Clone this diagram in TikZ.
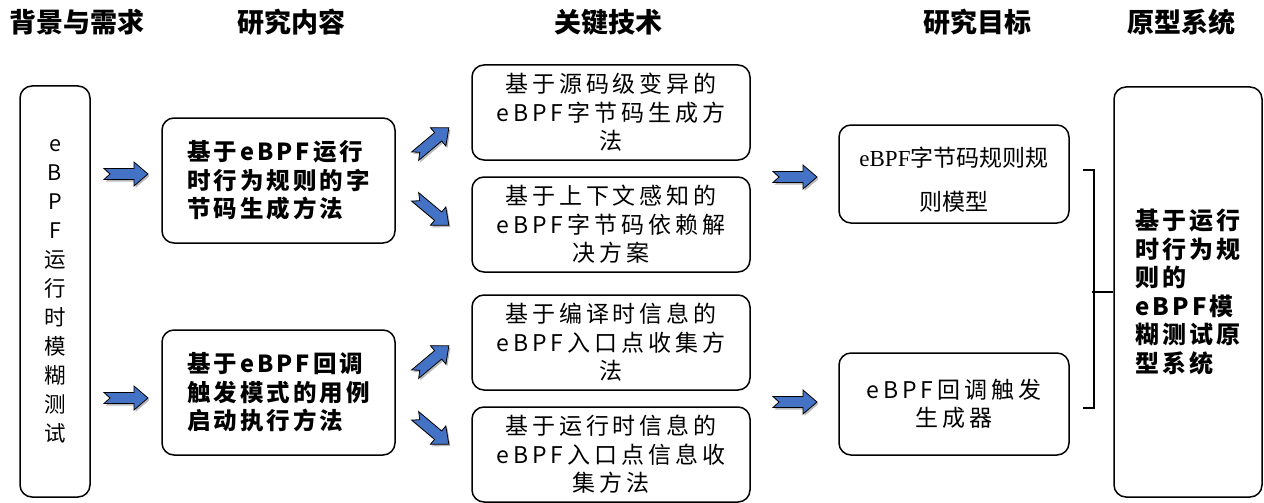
\documentclass[tikz,border=0pt]{standalone}
\usepackage{fontspec}
\setmainfont{Noto Sans CJK SC}
\newfontfamily\spaced{Noto Sans CJK SC}[LetterSpace=17]
\newfontfamily\bspaced{Noto Sans CJK SC}[LetterSpace=13]
\newfontfamily\tnr{Liberation Serif}
\usetikzlibrary{shadows,calc}
\definecolor{arrowblue}{RGB}{68,114,196}
\tikzset{
  box/.style={draw, line width=1.5pt, rounded corners=12pt, inner sep=0pt, align=center},
  headtext/.style={font=\fontsize{27}{30}\selectfont\bfseries, inner sep=0pt},
  plaintext/.style={font=\spaced\fontsize{23}{28.5}\selectfont},
  boldtext/.style={font=\bspaced\bfseries\fontsize{23.5}{28.5}\selectfont},
  bracket/.style={draw, line width=1.5pt},
  barrow/.pic={\path[draw=black, line width=0.8pt, fill=arrowblue, line join=miter,
      drop shadow={shadow xshift=1.5pt, shadow yshift=-2pt, opacity=0.45, fill=black!60}]
      (-22,-5.5) -- (8,-5.5) -- (8,-12) -- (22,0) -- (8,12) -- (8,5.5) -- (-22,5.5) -- (-16,0) -- cycle;}
}
\begin{document}
\begin{tikzpicture}[x=1pt,y=-1pt]
\useasboundingbox (0,0) rectangle (1264,503);
% headers
\node[headtext] (h1) at (77,22) {背景与需求};
\node[headtext] (h2) at (291,22) {研究内容};
\node[headtext] (h3) at (608,22) {关键技术};
\node[headtext] (h4) at (977,22) {研究目标};
\node[headtext] (h5) at (1181,22) {原型系统};
% left
\node[box, minimum width=70pt, minimum height=411pt, font=\fontsize{21.5}{29}\selectfont] (L) at (55,291.5)
  {e\\B\\P\\F\\运\\行\\时\\模\\糊\\测\\试};
% research content
\node[box, boldtext, align=left, minimum width=233pt, minimum height=125pt] (R1) at (278.5,180.5)
  {基于eBPF运行\\时行为规则的字\\节码生成方法};
\node[box, boldtext, align=left, minimum width=233pt, minimum height=125pt] (R2) at (278.5,392.5)
  {基于eBPF回调\\触发模式的用例\\启动执行方法};
% key techniques
\node[box, plaintext, minimum width=278pt, minimum height=95pt] (K1) at (611,112.5)
  {基于源码级变异的\\eBPF字节码生成方\\法};
\node[box, plaintext, minimum width=278pt, minimum height=95pt] (K2) at (611,224.5)
  {基于上下文感知的\\eBPF字节码依赖解\\决方案};
\node[box, plaintext, minimum width=278pt, minimum height=95pt] (K3) at (611,342.5)
  {基于编译时信息的\\eBPF入口点收集方\\法};
\node[box, plaintext, minimum width=278pt, minimum height=95pt] (K4) at (611,454.5)
  {基于运行时信息的\\eBPF入口点信息收\\集方法};
% goals
\node[box, minimum width=230pt, minimum height=98pt] (T1) at (954,174) {};
\node[align=center, font=\fontsize{23}{44}\selectfont] (T1t) at (954,180)
  {{\tnr eBPF}字节码规则规\\则模型};
\node[box, plaintext, minimum width=230pt, minimum height=102pt] (T2) at (954,404)
  {eBPF回调触发\\生成器};
% prototype
\node[box, boldtext, align=left, minimum width=148pt, minimum height=410pt,
  font=\bspaced\bfseries\fontsize{24}{28.6}\selectfont] (P) at (1188,292)
  {基于运行\\时行为规\\则的\\eBPF模\\糊测试原\\型系统};
% bracket
\draw[bracket] ($(T1.east)+(13,-4)$) -| ($(T2.east)+(24,4)$) -- ($(T2.east)+(13,4)$);
\draw[bracket] (P.west) -- ++(-21,0);
% arrows
\pic at (126,174) {barrow};
\pic at (126,398) {barrow};
\pic[rotate=40] at (432,142) {barrow};
\pic[rotate=-40] at (432,211) {barrow};
\pic[rotate=40] at (432,360) {barrow};
\pic[rotate=-40] at (432,430) {barrow};
\pic at (795,177) {barrow};
\pic at (795,402) {barrow};
\end{tikzpicture}
\end{document}
